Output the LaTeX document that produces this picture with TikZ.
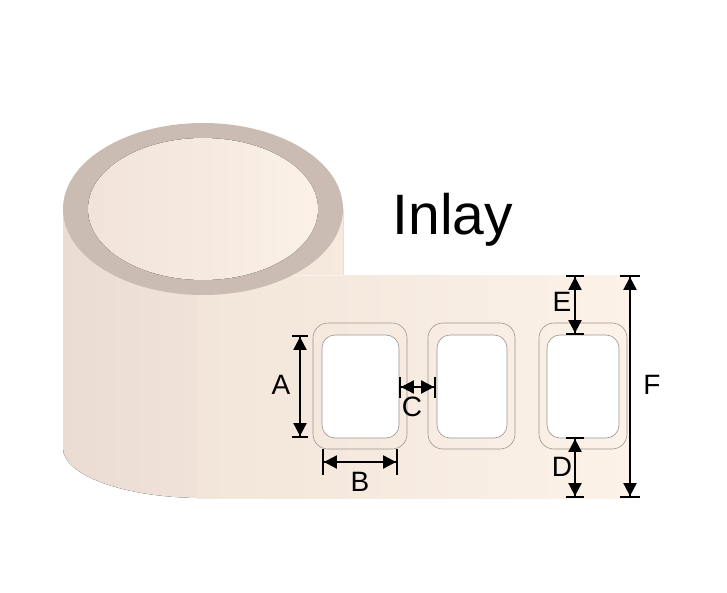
\documentclass[tikz,border=0pt]{standalone}
\usepackage{fontspec}
\setmainfont{Liberation Sans}
\usetikzlibrary{arrows.meta}
\definecolor{ring}{HTML}{CABCB3}
\definecolor{bodyL}{HTML}{EADCD3}
\definecolor{bodyR}{HTML}{F6E9DE}
\definecolor{stripL}{HTML}{F2E5DA}
\definecolor{stripR}{HTML}{FCF2E8}
\definecolor{coreL}{HTML}{F1E3D9}
\definecolor{coreR}{HTML}{FBF1E7}
\definecolor{frame}{HTML}{9A9592}

\begin{document}
\begin{tikzpicture}[x=1pt, y=-1pt, every node/.style={inner sep=0pt}]
	\tikzset{lbl/.style={font=\fontsize{28}{28}\selectfont}}
	\tikzset{outerbox/.style={draw=frame, line width=0.6pt, rounded corners=15pt}}
	\tikzset{innerbox/.style={draw=frame, fill=white, line width=0.6pt, rounded corners=13pt}}
	\tikzset{dim/.style={line width=1.9pt, arrows={{Bar[width=#1]Triangle[width=13pt,length=13pt]}-{Triangle[width=13pt,length=13pt]Bar[width=#1]}}}}
	\useasboundingbox (0,0) rectangle (727,593);
	% roll and strip
	\fill[left color=bodyL, right color=bodyR] (63,209) -- (63,448) arc[start angle=180, end angle=90, x radius=140, y radius=50] -- (343,498) -- (343,209) -- cycle;
	\fill[left color=stripL, right color=stripR] (197,275) rectangle (630,498);
	\draw[white!55!stripL, line width=1pt] (197,275) -- (343,275);
	\fill[ring] (203,209) ellipse[x radius=140, y radius=86];
	\fill[left color=coreL, right color=coreR] (203,209) ellipse[x radius=115, y radius=71];
	\node[font=\fontsize{57}{57}\selectfont, anchor=base] (title) at (453,235) {Inlay};
	% labels
	\node[outerbox, minimum width=94pt, minimum height=126pt] (o1) at (360,386)   {};
	\node[outerbox, minimum width=87pt, minimum height=126pt] (o2) at (471.5,386) {};
	\node[outerbox, minimum width=88pt, minimum height=126pt] (o3) at (583,386)   {};
	\node[innerbox, minimum width=77pt, minimum height=103pt] (i1) at (360.5,386.5) {};
	\node[innerbox, minimum width=70pt, minimum height=103pt] (i2) at (472,386.5)   {};
	\node[innerbox, minimum width=72pt, minimum height=103pt] (i3) at (583,386.5)   {};
	% dimensions
	\coordinate (a1) at (300,335);
	\coordinate (a2) at (300,438);
	\coordinate (b1) at (322,462);
	\coordinate (b2) at (398,462);
	\coordinate (c1) at (399,387);
	\coordinate (c2) at (436,387);
	\coordinate (e1) at (575,275);
	\coordinate (e2) at (575,335);
	\coordinate (d1) at (575,437);
	\coordinate (d2) at (575,498);
	\coordinate (f1) at (630,275);
	\coordinate (f2) at (630,498);
	\foreach \from/\to/\w in {a1/a2/16pt, b1/b2/26pt, c1/c2/21pt, e1/e2/18pt, d1/d2/18pt, f1/f2/20pt}
	\draw[dim=\w] (\from) -- (\to);
	\node[lbl] (la) at (281,385) {A};
	\node[lbl] (lb) at (360,482) {B};
	\node[lbl] (lc) at (412,407) {C};
	\node[lbl] (ld) at (562,467) {D};
	\node[lbl] (le) at (562,302) {E};
	\node[lbl] (lf) at (652,385) {F};
\end{tikzpicture}
\end{document}
